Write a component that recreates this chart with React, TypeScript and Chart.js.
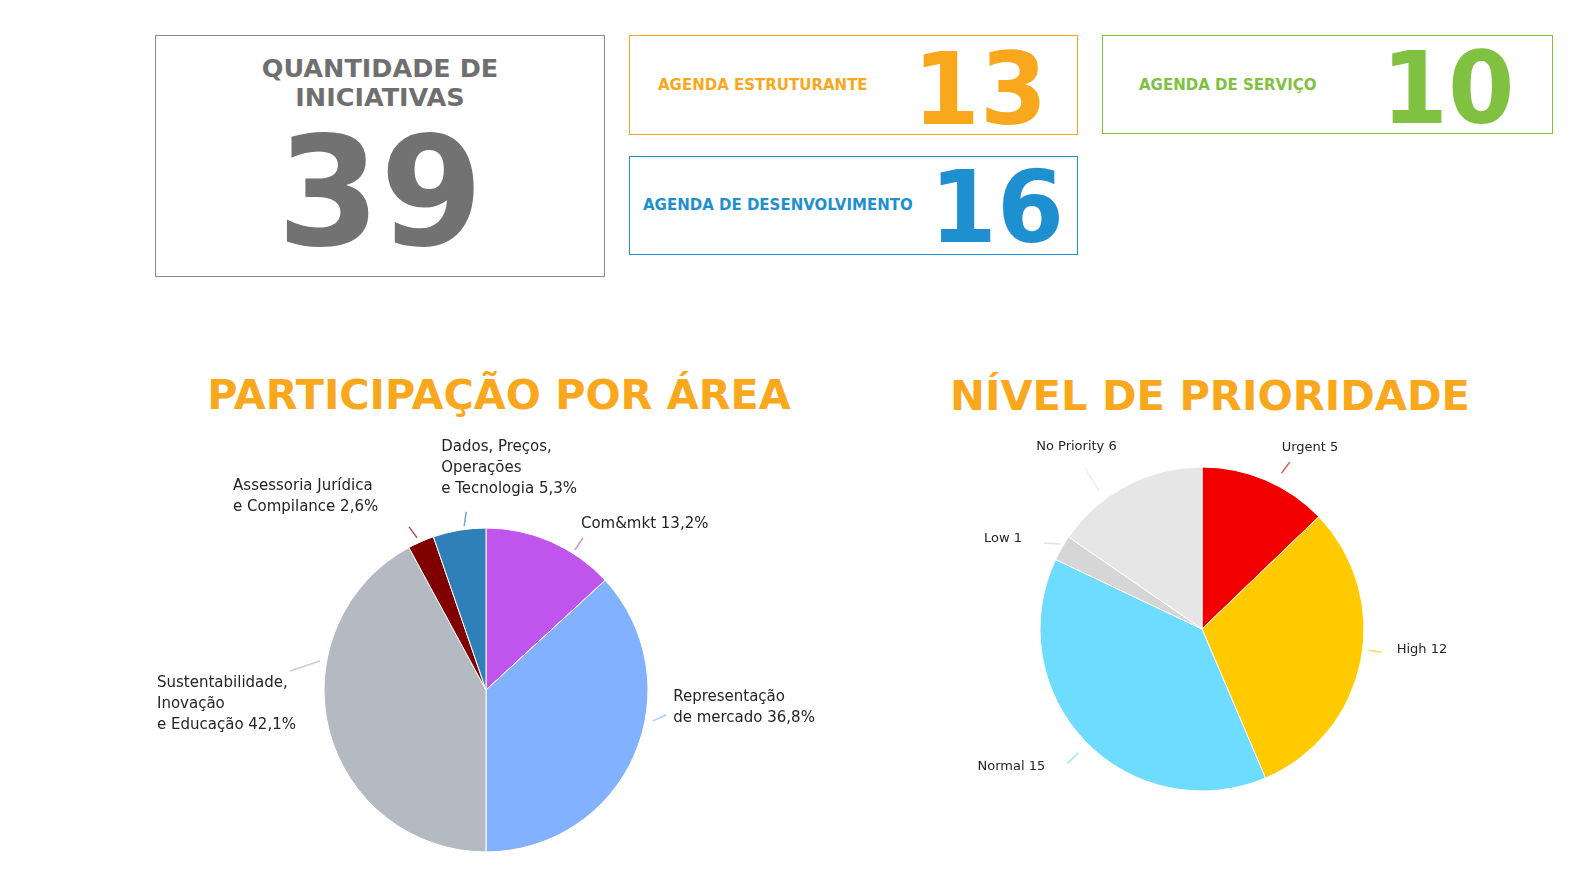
import React, { useEffect, useRef } from 'react';
import { Chart, registerables } from 'chart.js';

Chart.register(...registerables);

const FONT = '"DejaVu Sans", sans-serif';

// ---- data ----
const agendaNames = ['AGENDA ESTRUTURANTE', 'AGENDA DE DESENVOLVIMENTO', 'AGENDA DE SERVIÇO'];
const agendaValues = [13, 16, 10];

const areaCategories = [
  'Com&mkt',
  'Representação\nde mercado',
  'Sustentabilidade,\nInovação\ne Educação',
  'Assessoria Jurídica\ne Compilance',
  'Dados, Preços,\nOperações\ne Tecnologia',
];
const areaValues = [5, 14, 16, 1, 2];
const areaColors = ['#BF55EC', '#82B1FF', '#B4BAC1', '#800000', '#2F80B9'];

const priorityCategories = ['Urgent', 'High', 'Normal', 'Low', 'No Priority'];
const priorityValues = [5, 12, 15, 1, 6];
const priorityColors = ['#F20000', '#FFCB00', '#6EDCFF', '#D6D6D6', '#E6E6E6'];

// ---- label layout (styling only) ----
type Lay = { da: number; gap: number; lx: number; ly: number; tx: number; ty: number; align?: 'left' | 'right' };
const areaLayout: Lay[] = [
  { da: 8.7, gap: 4, lx: 8, ly: -12, tx: -2, ty: -14 },
  { da: -13.2, gap: 8, lx: 13, ly: -6, tx: 7, ty: -18 },
  { da: 24.1, gap: 6.5, lx: -30, ly: 10, tx: -133, ty: 12 },
  { da: -0.7, gap: 5, lx: -8, ly: -11, tx: -176, ty: -41 },
  { da: 1.9, gap: 3.5, lx: 2, ly: -14, tx: -25, ty: -65 },
];
const priorityLayout: Lay[] = [
  { da: 4, gap: 13, lx: 8, ly: -11, tx: -8, ty: -15 },
  { da: -4.3, gap: 6, lx: 13, ly: 2, tx: 15, ty: -3 },
  { da: -1.15, gap: 13, lx: -11, ly: 11, tx: -22, ty: 3, align: 'right' },
  { da: 0.9, gap: 3.5, lx: -16, ly: -1, tx: -22, ty: -4, align: 'right' },
  { da: -9, gap: 10, lx: -14, ly: -23, tx: -49, ty: -21 },
];

function makeLabelPlugin(cfg: { layout: Lay[]; size: number; lineHeight: number; mode: 'percent' | 'value' }) {
  return {
    id: 'outLabels',
    afterDatasetsDraw(chart: any) {
      const ctx: CanvasRenderingContext2D = chart.ctx;
      const meta = chart.getDatasetMeta(0);
      const ds = chart.data.datasets[0];
      const labels = chart.data.labels as string[];
      const data = ds.data as number[];
      const total = data.reduce((a, b) => a + b, 0);
      meta.data.forEach((arc: any, i: number) => {
        const p = arc.getProps(['x', 'y', 'startAngle', 'endAngle', 'outerRadius'], true);
        const lay = cfg.layout[i];
        const a = (p.startAngle + p.endAngle) / 2 + (lay.da * Math.PI) / 180;
        const r0 = p.outerRadius + lay.gap;
        const sx = p.x + Math.cos(a) * r0;
        const sy = p.y + Math.sin(a) * r0;
        const ex = sx + lay.lx;
        const ey = sy + lay.ly;
        ctx.save();
        ctx.globalAlpha = 0.7;
        ctx.strokeStyle = (ds.backgroundColor as string[])[i];
        ctx.lineWidth = 1.5;
        ctx.beginPath();
        ctx.moveTo(sx, sy);
        ctx.lineTo(ex, ey);
        ctx.stroke();
        ctx.globalAlpha = 1;
        const suffix =
          cfg.mode === 'percent'
            ? ((data[i] / total) * 100).toFixed(1).replace('.', ',') + '%'
            : String(data[i]);
        const lines = (labels[i] + ' ' + suffix).split('\n');
        ctx.font = `${cfg.size}px ${FONT}`;
        ctx.fillStyle = '#252423';
        ctx.textBaseline = 'middle';
        ctx.textAlign = lay.align || 'left';
        lines.forEach((ln, k) => {
          ctx.fillText(ln, ex + lay.tx, ey + lay.ty + k * cfg.lineHeight);
        });
        ctx.restore();
      });
    },
  };
}

function PieChart(props: {
  labels: string[];
  values: number[];
  colors: string[];
  width: number;
  height: number;
  padding: { left: number; right: number; top: number; bottom: number };
  layout: Lay[];
  size: number;
  lineHeight: number;
  mode: 'percent' | 'value';
  style: React.CSSProperties;
}) {
  const ref = useRef<HTMLCanvasElement | null>(null);
  useEffect(() => {
    if (!ref.current) return;
    const chart = new Chart(ref.current, {
      type: 'pie',
      data: {
        labels: props.labels,
        datasets: [
          {
            data: props.values,
            backgroundColor: props.colors,
            borderColor: '#ffffff',
            borderWidth: 1,
          },
        ],
      },
      options: {
        responsive: false,
        animation: false,
        devicePixelRatio: 1,
        layout: { padding: props.padding },
        plugins: { legend: { display: false }, tooltip: { enabled: false } },
      },
      plugins: [makeLabelPlugin({ layout: props.layout, size: props.size, lineHeight: props.lineHeight, mode: props.mode })],
    } as any);
    return () => chart.destroy();
  }, []);
  return (
    <canvas
      ref={ref}
      width={props.width}
      height={props.height}
      style={{ position: 'absolute', width: props.width, height: props.height, ...props.style }}
    />
  );
}

const ORANGE = '#F9A81E';
const BLUE = '#1E90D0';
const GREEN = '#80C142';
const GRAY = '#727272';

const abs = (s: React.CSSProperties): React.CSSProperties => ({
  position: 'absolute',
  fontFamily: FONT,
  whiteSpace: 'nowrap',
  margin: 0,
  ...s,
});

export default function App() {
  const total = agendaValues.reduce((a, b) => a + b, 0);
  const cardColors = [ORANGE, BLUE, GREEN];
  const cardBoxes = [
    { left: 629, top: 35, width: 449, height: 100 },
    { left: 629, top: 156, width: 449, height: 99 },
    { left: 1102, top: 35, width: 451, height: 99 },
  ];
  const labelPos = [
    { left: 658, top: 78.2 },
    { left: 643, top: 198.2 },
    { left: 1139, top: 78.2 },
  ];
  const numPos = [
    { center: 980, top: 40.3, size: 100 },
    { center: 996.5, top: 158.3, size: 100 },
    { center: 1447.5, top: 39.3, size: 99 },
  ];
  return (
    <div
      style={{
        position: 'absolute',
        left: 0,
        top: 0,
        width: 1594,
        height: 870,
        background: '#ffffff',
        overflow: 'hidden',
      }}
    >
      {/* total card */}
      <div
        style={{
          position: 'absolute',
          left: 155,
          top: 35,
          width: 450,
          height: 242,
          boxSizing: 'border-box',
          border: '1px solid #8A8A8A',
        }}
      />
      <div
        style={abs({
          left: 155,
          top: 54,
          width: 450,
          textAlign: 'center',
          fontSize: 25.5,
          lineHeight: '29px',
          fontWeight: 'bold',
          color: '#6F6F6F',
          whiteSpace: 'normal',
        })}
      >
        QUANTIDADE DE
        <br />
        INICIATIVAS
      </div>
      <div
        style={abs({
          left: 155,
          top: 117.2,
          width: 450,
          textAlign: 'center',
          fontSize: 152,
          lineHeight: '152px',
          fontWeight: 'bold',
          color: GRAY,
          transform: 'scaleX(0.975)',
        })}
      >
        {total}
      </div>

      {agendaNames.map((name, i) => (
        <React.Fragment key={name}>
          <div
            style={{
              position: 'absolute',
              ...cardBoxes[i],
              boxSizing: 'border-box',
              border: `1px solid ${cardColors[i]}`,
            }}
          />
          <div
            style={abs({
              left: labelPos[i].left,
              top: labelPos[i].top,
              fontSize: 15,
              lineHeight: '15px',
              fontWeight: 'bold',
              color: cardColors[i],
            })}
          >
            {name}
          </div>
          <div
            style={abs({
              left: numPos[i].center - 150,
              width: 300,
              textAlign: 'center',
              top: numPos[i].top,
              fontSize: numPos[i].size,
              lineHeight: `${numPos[i].size}px`,
              fontWeight: 'bold',
              color: cardColors[i],
              transform: 'scaleX(0.965)',
            })}
          >
            {agendaValues[i]}
          </div>
        </React.Fragment>
      ))}

      {/* titles */}
      <div
        style={abs({
          left: 99,
          width: 800,
          top: 375,
          textAlign: 'center',
          fontSize: 41.3,
          lineHeight: '41px',
          fontWeight: 'bold',
          color: ORANGE,
        })}
      >
        PARTICIPAÇÃO POR ÁREA
      </div>
      <div
        style={abs({
          left: 810,
          width: 800,
          top: 375,
          textAlign: 'center',
          fontSize: 41.6,
          lineHeight: '41px',
          fontWeight: 'bold',
          color: ORANGE,
        })}
      >
        NÍVEL DE PRIORIDADE
      </div>

      <PieChart
        labels={areaCategories}
        values={areaValues}
        colors={areaColors}
        width={720}
        height={445}
        padding={{ left: 193.5, right: 201.5, top: 107.5, bottom: 12.5 }}
        layout={areaLayout}
        size={15}
        lineHeight={21}
        mode="percent"
        style={{ left: 130, top: 420 }}
      />
      <PieChart
        labels={priorityCategories}
        values={priorityValues}
        colors={priorityColors}
        width={560}
        height={420}
        padding={{ left: 109.5, right: 125.5, top: 46.5, bottom: 48.5 }}
        layout={priorityLayout}
        size={13}
        lineHeight={18}
        mode="value"
        style={{ left: 930, top: 420 }}
      />
    </div>
  );
}
